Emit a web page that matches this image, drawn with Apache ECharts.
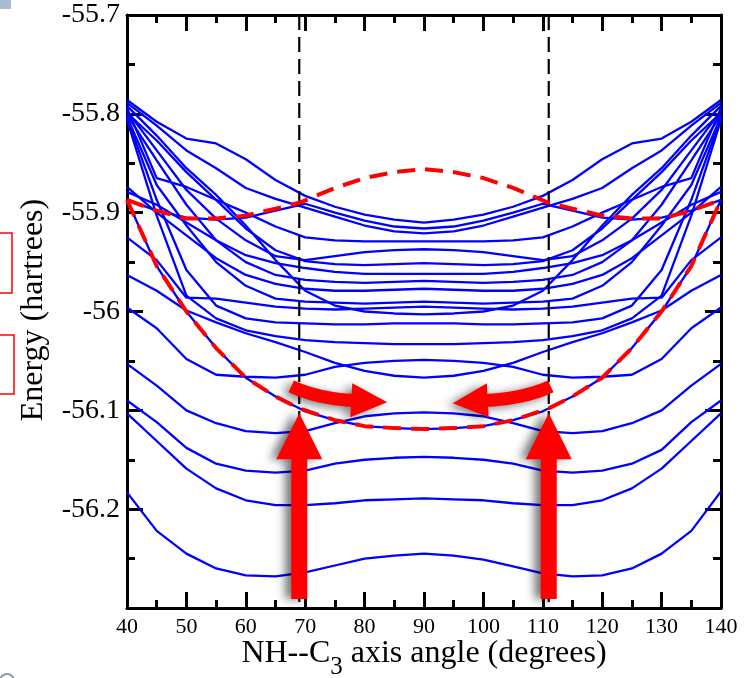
<!DOCTYPE html>
<html><head><meta charset="utf-8">
<script src="https://cdn.jsdelivr.net/npm/echarts@6/dist/echarts.min.js"></script>
<style>html,body{margin:0;padding:0;background:#fff}#c{width:751px;height:678px}</style>
</head><body><div id="c"></div>
<script>
// ---- data ----
const angles = [40,45,50,55,60,65,70,75,80,85,90,95,100,105,110,115,120,125,130,135,140];
const redAngles = [40,45,50,55,60,65,69,75,80,85,90,95,100,105,111,115,120,125,130,135,140];
const dividerAngles = [69, 111];
const xTickLabels = [40,50,60,70,80,90,100,110,120,130,140];
const yTickLabels = ['-55.7','-55.8','-55.9','-56','-56.1','-56.2'];

const state01 = [-56.183,-56.222,-56.245,-56.260,-56.267,-56.268,-56.264,-56.257,-56.250,-56.247,-56.245,-56.247,-56.251,-56.258,-56.265,-56.268,-56.267,-56.260,-56.245,-56.222,-56.182];
const state02 = [-56.103,-56.131,-56.159,-56.179,-56.191,-56.196,-56.196,-56.194,-56.191,-56.190,-56.189,-56.190,-56.191,-56.194,-56.196,-56.196,-56.191,-56.179,-56.159,-56.131,-56.103];
const state03 = [-56.090,-56.112,-56.138,-56.154,-56.161,-56.163,-56.161,-56.154,-56.150,-56.148,-56.147,-56.148,-56.150,-56.154,-56.161,-56.163,-56.161,-56.154,-56.140,-56.112,-56.090];
const state04 = [-56.053,-56.075,-56.100,-56.113,-56.121,-56.123,-56.121,-56.113,-56.106,-56.103,-56.102,-56.103,-56.106,-56.113,-56.121,-56.123,-56.121,-56.113,-56.100,-56.075,-56.053];
const state05 = [-55.887,-55.954,-56.000,-56.037,-56.067,-56.086,-56.101,-56.110,-56.116,-56.118,-56.119,-56.118,-56.116,-56.110,-56.101,-56.086,-56.067,-56.037,-56.000,-55.954,-55.887];
const state06 = [-55.996,-56.017,-56.048,-56.064,-56.066,-56.067,-56.064,-56.056,-56.052,-56.050,-56.049,-56.050,-56.052,-56.056,-56.064,-56.067,-56.066,-56.064,-56.048,-56.017,-55.996];
const state07 = [-55.963,-55.979,-55.999,-56.011,-56.022,-56.031,-56.041,-56.052,-56.060,-56.065,-56.067,-56.065,-56.060,-56.052,-56.041,-56.031,-56.022,-56.011,-55.999,-55.979,-55.963];
const state08 = [-55.786,-55.808,-55.825,-55.830,-55.846,-55.867,-55.883,-55.894,-55.902,-55.907,-55.910,-55.907,-55.902,-55.894,-55.883,-55.867,-55.846,-55.830,-55.825,-55.808,-55.786];
const state09 = [-55.887,-55.898,-55.905,-55.907,-55.905,-55.898,-55.891,-55.900,-55.908,-55.914,-55.916,-55.914,-55.908,-55.900,-55.891,-55.898,-55.905,-55.907,-55.905,-55.898,-55.887];
const state10 = [-55.789,-55.812,-55.837,-55.855,-55.875,-55.886,-55.895,-55.904,-55.913,-55.919,-55.921,-55.919,-55.913,-55.904,-55.895,-55.886,-55.875,-55.855,-55.837,-55.812,-55.789];
const state11 = [-55.794,-55.865,-55.874,-55.887,-55.900,-55.914,-55.925,-55.928,-55.929,-55.929,-55.929,-55.929,-55.929,-55.928,-55.925,-55.914,-55.900,-55.887,-55.874,-55.865,-55.794];
const state12 = [-55.797,-55.837,-55.877,-55.906,-55.928,-55.944,-55.948,-55.944,-55.940,-55.938,-55.937,-55.938,-55.940,-55.944,-55.948,-55.944,-55.928,-55.906,-55.877,-55.837,-55.797];
const state13 = [-55.799,-55.827,-55.859,-55.887,-55.916,-55.938,-55.949,-55.952,-55.953,-55.952,-55.951,-55.952,-55.953,-55.952,-55.949,-55.938,-55.916,-55.887,-55.859,-55.827,-55.799];
const state14 = [-55.879,-55.892,-55.910,-55.928,-55.943,-55.951,-55.956,-55.960,-55.962,-55.962,-55.962,-55.962,-55.962,-55.960,-55.956,-55.951,-55.943,-55.928,-55.910,-55.892,-55.879];
const state15 = [-55.801,-55.847,-55.892,-55.928,-55.950,-55.963,-55.968,-55.970,-55.971,-55.970,-55.969,-55.970,-55.971,-55.970,-55.968,-55.963,-55.950,-55.928,-55.892,-55.847,-55.801];
const state16 = [-55.874,-55.900,-55.923,-55.946,-55.963,-55.972,-55.977,-55.979,-55.979,-55.978,-55.977,-55.978,-55.979,-55.979,-55.977,-55.972,-55.963,-55.946,-55.923,-55.900,-55.874];
const state17 = [-55.803,-55.872,-55.913,-55.950,-55.974,-55.987,-55.990,-55.991,-55.992,-55.991,-55.990,-55.991,-55.992,-55.991,-55.990,-55.987,-55.974,-55.950,-55.913,-55.872,-55.803];
const state18 = [-55.925,-55.948,-55.986,-55.987,-55.991,-55.995,-55.997,-55.998,-55.997,-55.996,-55.995,-55.996,-55.997,-55.998,-55.997,-55.995,-55.991,-55.987,-55.986,-55.948,-55.925];
const state19 = [-55.792,-55.822,-55.855,-55.882,-55.913,-55.948,-55.979,-55.994,-56.000,-56.002,-56.003,-56.002,-56.000,-55.994,-55.979,-55.948,-55.913,-55.882,-55.855,-55.822,-55.792];
const state20 = [-55.804,-55.887,-55.958,-55.994,-56.007,-56.011,-56.012,-56.013,-56.013,-56.012,-56.012,-56.012,-56.013,-56.013,-56.012,-56.011,-56.007,-55.994,-55.958,-55.887,-55.804];
const state21 = [-55.806,-55.903,-55.984,-56.007,-56.019,-56.025,-56.029,-56.031,-56.032,-56.033,-56.033,-56.033,-56.032,-56.031,-56.029,-56.025,-56.019,-56.007,-55.984,-55.903,-55.806];

const redUpper = [-55.887,-55.898,-55.906,-55.906,-55.903,-55.896,-55.890,-55.875,-55.865,-55.859,-55.856,-55.859,-55.865,-55.875,-55.890,-55.896,-55.903,-55.906,-55.906,-55.898,-55.887];
const redLower = [-55.887,-55.954,-56.000,-56.037,-56.067,-56.086,-56.098,-56.110,-56.116,-56.118,-56.119,-56.118,-56.116,-56.110,-56.098,-56.086,-56.067,-56.037,-56.000,-55.954,-55.887];

const blueStates = [state01,state02,state03,state04,state05,state06,state07,state08,state09,state10,
  state11,state12,state13,state14,state15,state16,state17,state18,state19,state20,state21];

// ---- chart ----
const chart = echarts.init(document.getElementById('c'), null, {renderer:'canvas'});
const FONTNAME = '"Liberation Serif","Times New Roman",serif';
const Y_MIN = -56.3, Y_MAX = -55.7;

function axisCommon(extra) {
  return Object.assign({
    axisLine:{show:true, onZero:false, lineStyle:{color:'#000', width:3}},
    axisTick:{show:true, inside:true, length:16, lineStyle:{color:'#000', width:3}},
    minorTick:{show:true, splitNumber:2, length:8, lineStyle:{color:'#000', width:3}},
    splitLine:{show:false}, minorSplitLine:{show:false}
  }, extra);
}

const series = [];
blueStates.forEach((s, k) => {
  series.push({
    type:'line', name:'s'+k, xAxisIndex:0, yAxisIndex:0,
    data: angles.map((a,i)=>[a, s[i]]),
    symbol:'none', smooth:false, z:2,
    lineStyle:{color:'#0000ff', width:2.3}
  });
});
dividerAngles.forEach(a => {
  series.push({
    type:'line', xAxisIndex:0, yAxisIndex:0, data:[[a, Y_MAX],[a, Y_MIN]],
    symbol:'none', z:3, lineStyle:{color:'#000', width:2.2, type:[15,7]}
  });
});
[redUpper, redLower].forEach(r => {
  series.push({
    type:'line', xAxisIndex:0, yAxisIndex:0, data: redAngles.map((a,i)=>[a, r[i]]),
    symbol:'none', z:4, lineStyle:{color:'#ff0000', width:4, type:[18,10]}
  });
});

chart.setOption({
  animation:false,
  backgroundColor:'#fff',
  grid:{left:127, right:30, top:15, bottom:70, containLabel:false},
  xAxis:[
    axisCommon({type:'value', min:40, max:140, interval:10, position:'bottom',
      axisLabel:{show:true, color:'#000', fontFamily:FONTNAME, fontSize:22, margin:8}}),
    axisCommon({type:'value', min:40, max:140, interval:10, position:'top',
      axisLabel:{show:false}})
  ],
  yAxis:[
    axisCommon({type:'value', min:Y_MIN, max:Y_MAX, interval:0.1, position:'left',
      axisLabel:{show:true, color:'#000', fontFamily:FONTNAME, fontSize:28, margin:7,
        formatter: v => Math.abs(v - Y_MIN) < 1e-6 ? '' : String(+v.toFixed(1))}}),
    axisCommon({type:'value', min:Y_MIN, max:Y_MAX, interval:0.1, position:'right',
      axisLabel:{show:false}})
  ],
  series: series
});

// ---- annotations (arrows, titles) ----
function vArrow(tip, baseY) {
  const [tx, ty] = tip;
  return {type:'polygon', z:100,
    shape:{points:[[tx,ty],[tx+23,ty+46],[tx+8,ty+46],[tx+8,baseY],[tx-8,baseY],[tx-8,ty+46],[tx-23,ty+46]]},
    style:{fill:'#ff0000', shadowBlur:10, shadowColor:'rgba(0,0,0,0.55)', shadowOffsetX:-6, shadowOffsetY:0}};
}
function cArrow(p0, c, p1, tip, hw, hh) {
  const up = [], lo = [];
  for (let i = 0; i <= 12; i++) {
    const t = i / 12;
    const bx = (1-t)*(1-t)*p0[0] + 2*(1-t)*t*c[0] + t*t*p1[0];
    const by = (1-t)*(1-t)*p0[1] + 2*(1-t)*t*c[1] + t*t*p1[1];
    const dx = 2*(1-t)*(c[0]-p0[0]) + 2*t*(p1[0]-c[0]);
    const dy = 2*(1-t)*(c[1]-p0[1]) + 2*t*(p1[1]-c[1]);
    const L = Math.hypot(dx, dy);
    const nx = -dy / L, ny = dx / L;
    up.push([bx + hw*nx, by + hw*ny]);
    lo.push([bx - hw*nx, by - hw*ny]);
  }
  const dx = p1[0]-c[0], dy = p1[1]-c[1], L = Math.hypot(dx, dy);
  const nx = -dy / L, ny = dx / L;
  const pts = up.concat([[p1[0]+hh*nx, p1[1]+hh*ny], tip, [p1[0]-hh*nx, p1[1]-hh*ny]]).concat(lo.reverse());
  return {type:'polygon', z:100, shape:{points:pts},
    style:{fill:'#ff0000', shadowBlur:10, shadowColor:'rgba(0,0,0,0.5)', shadowOffsetX:-5, shadowOffsetY:2}};
}

const A = chart.convertToPixel({gridIndex:0}, [dividerAngles[0], -56.1]);
const B = chart.convertToPixel({gridIndex:0}, [dividerAngles[1], -56.1]);
const tipA = chart.convertToPixel({gridIndex:0}, [dividerAngles[0], -56.103]);
const tipB = chart.convertToPixel({gridIndex:0}, [dividerAngles[1], -56.103]);
const baseY = chart.convertToPixel({gridIndex:0}, [40, -56.291])[1];

// x-axis title with a real subscript, pieces placed by measured widths
const mctx = document.createElement('canvas').getContext('2d');
function textW(t, size) { mctx.font = size + 'px ' + FONTNAME; return mctx.measureText(t).width; }
const T1 = 'NH--C', T2 = '3', T3 = ' axis angle (degrees)';
const MAIN = 32, SUB = 25;
const w1 = textW(T1, MAIN), w2 = textW(T2, SUB), w3 = textW(T3, MAIN);
const cx = (chart.convertToPixel({gridIndex:0}, [40, Y_MIN])[0] + chart.convertToPixel({gridIndex:0}, [140, Y_MIN])[0]) / 2;
const x0 = cx - (w1 + w2 + w3) / 2;
const titleY = 654;

const graphics = [
  vArrow(tipA, baseY),
  vArrow(tipB, baseY),
  cArrow([A[0]-8, A[1]-24], [A[0]+18, A[1]-12], [A[0]+52, A[1]-10], [A[0]+88, A[1]-8], 6.5, 17),
  cArrow([B[0]+2, B[1]-24], [B[0]-24, B[1]-12], [B[0]-61, B[1]-10], [B[0]-96, B[1]-7], 6.5, 17),
  {type:'text', x:34, y:310, rotation:Math.PI/2, z:50,
    style:{text:'Energy (hartrees)', font:'32px ' + FONTNAME, align:'center', verticalAlign:'middle', fill:'#000'}},
  {type:'text', x:x0, y:titleY, z:50,
    style:{text:T1, font:MAIN + 'px ' + FONTNAME, align:'left', verticalAlign:'middle', fill:'#000'}},
  {type:'text', x:x0 + w1, y:titleY + 13, z:50,
    style:{text:T2, font:SUB + 'px ' + FONTNAME, align:'left', verticalAlign:'middle', fill:'#000'}},
  {type:'text', x:x0 + w1 + w2, y:titleY, z:50,
    style:{text:T3, font:MAIN + 'px ' + FONTNAME, align:'left', verticalAlign:'middle', fill:'#000'}},
  {type:'rect', z:50, shape:{x:0, y:0, width:11, height:9}, style:{fill:'#a9bcd2'}},
  {type:'rect', z:50, shape:{x:-4, y:233, width:16, height:60}, style:{fill:'none', stroke:'#ff0000', lineWidth:1.5}},
  {type:'rect', z:50, shape:{x:-4, y:335, width:18, height:59}, style:{fill:'none', stroke:'#ff0000', lineWidth:1.5}},
  {type:'circle', z:50, shape:{cx:7, cy:681, r:7}, style:{fill:'none', stroke:'#8c9aa8', lineWidth:2}}
];
chart.setOption({graphic: graphics});
</script>
</body></html>
